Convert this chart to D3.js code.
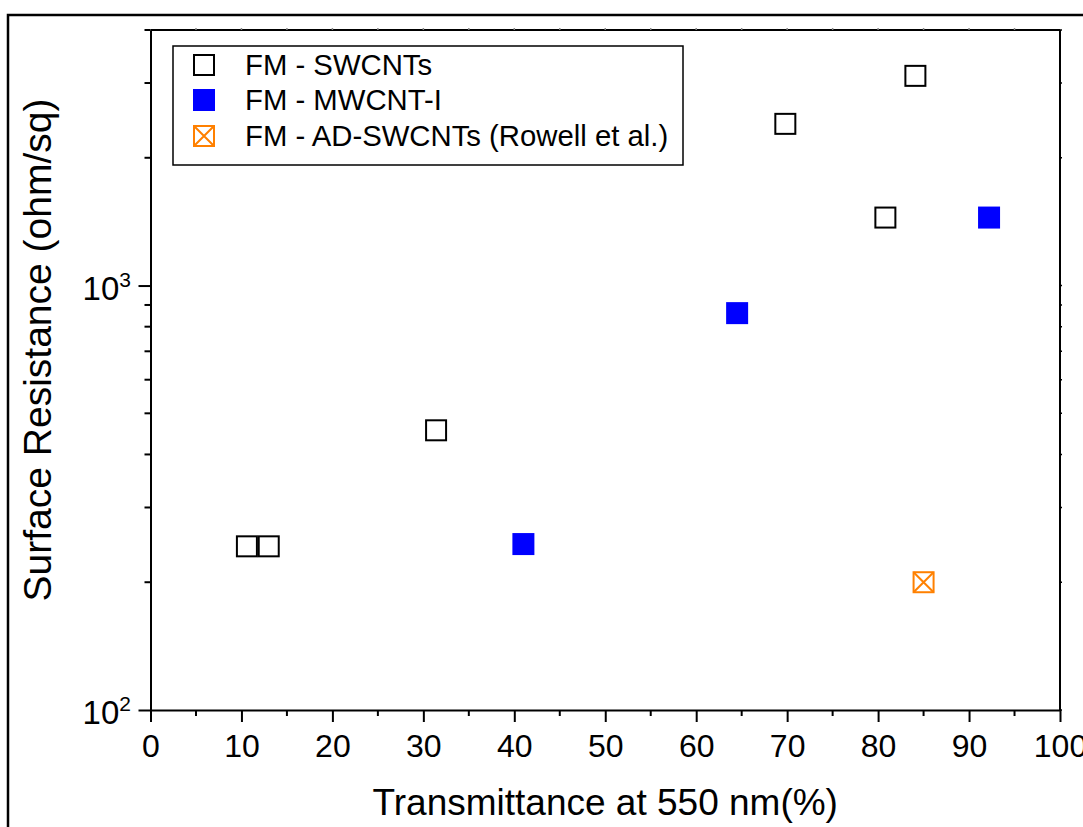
<!DOCTYPE html>
<html>
<head>
<meta charset="utf-8">
<script src="https://cdn.jsdelivr.net/npm/d3@7"></script>
<style>
  body { margin: 0; background: #fff; }
  svg { font-family: Arial, "Liberation Sans", sans-serif; }
</style>
</head>
<body>
<svg id="chart" width="1083" height="827"></svg>
<script>
// data
const swcntX = [10.6, 13.0, 31.4, 69.8, 80.8, 84.1];
const swcntY = [243, 243, 456, 2404, 1446, 3119];
const mwcntX = [41.0, 64.5, 92.2];
const mwcntY = [246, 861, 1446];
const adX = [85.0];
const adY = [200];
const legendLabels = ['FM - SWCNTs', 'FM - MWCNT-I', 'FM - AD-SWCNTs (Rowell et al.)'];
const xTicks = [0, 10, 20, 30, 40, 50, 60, 70, 80, 90, 100];
const yMajor = [100, 1000];
const yMinor = [200, 300, 400, 500, 600, 700, 800, 900, 2000, 3000, 4000];

const svg = d3.select('#chart');
const plotL = 150.5, plotR = 1060, plotT = 30, plotB = 710;

let x = d3.scaleLinear().domain([0, 100]).range([plotL, plotR]);
let y = d3.scaleLog().domain([100, 4000]).range([plotB, plotT]);

// outer frame
svg.append('rect')
  .attr('x', 8).attr('y', 15).attr('width', 1200).attr('height', 900)
  .attr('fill', 'none').attr('stroke', '#000').attr('stroke-width', 2.5);

let xMinor = d3.range(5, 100, 10);

// bottom axis
let gx = svg.append('g').attr('transform', `translate(0,${plotB})`);
gx.call(d3.axisBottom(x).tickValues(xTicks).tickSize(12).tickSizeOuter(0).tickFormat(d3.format('d')));
gx.attr('font-family', null);
gx.selectAll('.tick line').attr('stroke-width', 2);
gx.selectAll('.tick text').attr('font-size', 32).attr('dy', 0).attr('y', 47);
gx.select('.domain').attr('stroke-width', 2);
gx.selectAll('.minor').data(xMinor).join('line')
  .attr('x1', d => x(d)).attr('x2', d => x(d))
  .attr('y1', 0).attr('y2', 6).attr('stroke', '#000').attr('stroke-width', 2);

// left axis
let gy = svg.append('g').attr('transform', `translate(${plotL},0)`);
gy.call(d3.axisLeft(y).tickValues(yMajor).tickSize(12).tickSizeOuter(0).tickFormat(''));
gy.selectAll('.tick line').attr('stroke-width', 2);
gy.select('.domain').attr('stroke-width', 2);
gy.selectAll('.minor').data(yMinor).join('line')
  .attr('x1', 0).attr('x2', -6)
  .attr('y1', d => y(d)).attr('y2', d => y(d)).attr('stroke', '#000').attr('stroke-width', 2);

// y tick labels with superscript exponent
yMajor.forEach(v => {
  let t = svg.append('text')
    .attr('x', 131).attr('y', y(v) + 14)
    .attr('text-anchor', 'end').attr('font-size', 33);
  t.append('tspan').text('10');
  t.append('tspan').attr('font-size', 21).attr('dy', -13).text(Math.round(Math.log10(v)));
});

// top and right mirror lines with tiny ticks
svg.append('line').attr('x1', plotL).attr('x2', plotR).attr('y1', plotT).attr('y2', plotT)
  .attr('stroke', '#000').attr('stroke-width', 2);
svg.append('line').attr('x1', plotR).attr('x2', plotR).attr('y1', plotT).attr('y2', plotB)
  .attr('stroke', '#000').attr('stroke-width', 2);
svg.selectAll('.topTick').data(d3.range(5, 100, 5)).join('line')
  .attr('x1', d => x(d)).attr('x2', d => x(d))
  .attr('y1', plotT).attr('y2', plotT - 2).attr('stroke', '#888').attr('stroke-width', 1.5);
svg.selectAll('.rightTick').data(yMajor.concat(yMinor)).join('line')
  .attr('x1', plotR).attr('x2', plotR + 2)
  .attr('y1', d => y(d)).attr('y2', d => y(d)).attr('stroke', '#000').attr('stroke-width', 1.5);

// axis titles
svg.append('text')
  .attr('x', (plotL + plotR) / 2).attr('y', 815)
  .attr('text-anchor', 'middle').attr('font-size', 37)
  .text('Transmittance at 550 nm(%)');
svg.append('text')
  .attr('transform', `translate(51,350) rotate(-90)`)
  .attr('text-anchor', 'middle').attr('font-size', 39)
  .text('Surface Resistance (ohm/sq)');

// markers
const s = 22;
function openSquare(g, cx, cy, color) {
  g.append('rect')
    .attr('x', cx - s / 2 + 1).attr('y', cy - s / 2 + 1)
    .attr('width', s - 2).attr('height', s - 2)
    .attr('fill', '#fff').attr('stroke', color).attr('stroke-width', 2);
}
function filledSquare(g, cx, cy) {
  g.append('rect')
    .attr('x', cx - s / 2).attr('y', cy - s / 2)
    .attr('width', s).attr('height', s)
    .attr('fill', '#0000ff');
}
function crossSquare(g, cx, cy) {
  openSquare(g, cx, cy, '#ff8000');
  let h = s / 2 - 1;
  g.append('path')
    .attr('d', `M${cx - h},${cy - h}L${cx + h},${cy + h}M${cx + h},${cy - h}L${cx - h},${cy + h}`)
    .attr('stroke', '#ff8000').attr('stroke-width', 2).attr('fill', 'none');
}

let pts = svg.append('g');
swcntX.forEach((d, i) => openSquare(pts, x(d), y(swcntY[i]), '#000'));
mwcntX.forEach((d, i) => filledSquare(pts, x(d), y(mwcntY[i])));
adX.forEach((d, i) => crossSquare(pts, x(d), y(adY[i])));

// legend
let lg = svg.append('g');
lg.append('rect')
  .attr('x', 173).attr('y', 46).attr('width', 510).attr('height', 119)
  .attr('fill', '#fff').attr('stroke', '#000').attr('stroke-width', 1.5);
const rowY = [65, 100, 136];
openSquare(lg, 204, rowY[0], '#000');
filledSquare(lg, 204, rowY[1]);
crossSquare(lg, 204, rowY[2]);
legendLabels.forEach((d, i) => {
  lg.append('text')
    .attr('x', 245).attr('y', rowY[i] + 10)
    .attr('font-size', 29.3)
    .text(d);
});
</script>
</body>
</html>
